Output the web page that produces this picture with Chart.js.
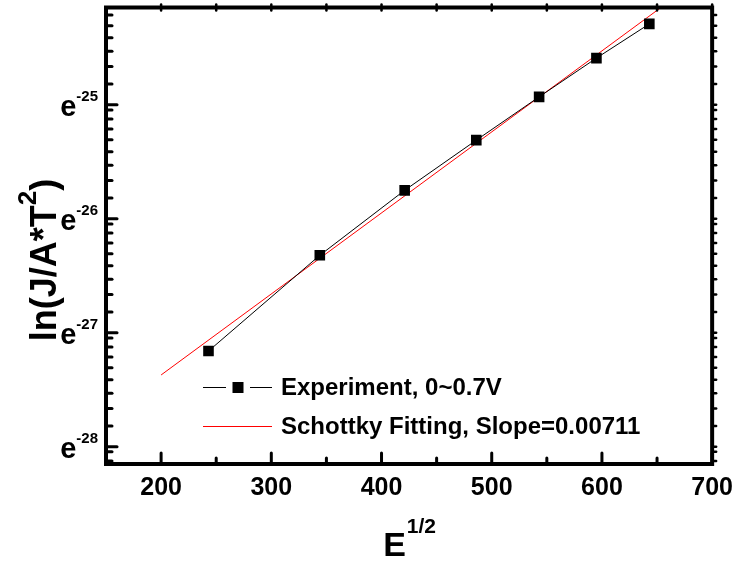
<!DOCTYPE html>
<html><head><meta charset="utf-8">
<script src="https://cdn.jsdelivr.net/npm/chart.js@4.4.0/dist/chart.umd.min.js"></script>
<style>html,body{margin:0;padding:0;background:#fff}canvas{display:block}</style>
</head><body>
<canvas id="c" width="742" height="561"></canvas>
<script>
// ---- data ----
const expX = [243, 344, 421, 486, 543, 595, 643];
const expY = [-27.16, -26.32, -25.75, -25.31, -24.93, -24.59, -24.29];   // ln(J/A*T^2)
const fitX = [200, 660];
const fitY = [-27.37, -24.10];
const xTicks = [200, 300, 400, 500, 600, 700];
const xMinorTicks = [250, 350, 450, 550, 650];
const yTicks = [-28, -27, -26, -25];
const yTickLabelBase = 'e';
const seriesNames = ['Experiment, 0~0.7V', 'Schottky Fitting, Slope=0.00711'];
const xTitle = ['E', '1/2'];
const yTitle = ['ln(J/A*T', '2', ')'];

const FONT = '"Liberation Sans", Arial, Helvetica, sans-serif';

const decorPlugin = {
  id: 'decor',
  afterDatasetsDraw(chart) {
    const ctx = chart.ctx;
    const a = chart.chartArea;
    const xs = chart.scales.x, ys = chart.scales.y;
    ctx.save();
    ctx.strokeStyle = '#000';
    ctx.fillStyle = '#000';
    // frame
    ctx.lineWidth = 4;
    ctx.lineJoin = 'miter';
    ctx.strokeRect(a.left, a.top, a.right - a.left, a.bottom - a.top);

    // y tick positions (major + minor for ln scale: e^n*(1+0.2k))
    const yMinor = [];
    for (let n = -29; n <= -25; n++) {
      for (let k = 1; k <= 8; k++) {
        const v = n + Math.log(1 + 0.2 * k);
        if (v > ys.min && v < ys.max) yMinor.push(v);
      }
    }
    ctx.lineCap = 'round';
    ctx.lineWidth = 3;
    const line = (x1, y1, x2, y2) => { ctx.beginPath(); ctx.moveTo(x1, y1); ctx.lineTo(x2, y2); ctx.stroke(); };
    // left ticks
    yTicks.forEach(v => { const y = ys.getPixelForValue(v); line(a.left, y, a.left + 11, y); });
    yMinor.forEach(v => { const y = ys.getPixelForValue(v); line(a.left, y, a.left + 6, y); });
    // right ticks (outward, small)
    ctx.lineWidth = 2.5;
    yTicks.concat(yMinor).forEach(v => { const y = ys.getPixelForValue(v); line(a.right, y, a.right + 4, y); });
    // bottom ticks
    ctx.lineWidth = 3;
    xTicks.forEach(v => { const x = xs.getPixelForValue(v); line(x, a.bottom, x, a.bottom - 11); });
    xMinorTicks.forEach(v => { const x = xs.getPixelForValue(v); line(x, a.bottom, x, a.bottom - 6); });
    // top ticks (small bumps)
    ctx.lineWidth = 2.5;
    xTicks.concat(xMinorTicks).forEach(v => { const x = xs.getPixelForValue(v); line(x, a.top - 3, x, a.top + 3); });
    ctx.lineCap = 'butt';

    // y tick labels e^n
    ctx.textBaseline = 'alphabetic';
    ctx.textAlign = 'left';
    const eFont = 'bold 29px ' + FONT, supFont = 'bold 15px ' + FONT;
    yTicks.forEach(v => {
      const y = ys.getPixelForValue(v);
      const sup = String(v);
      ctx.font = supFont; const sw = ctx.measureText(sup).width;
      ctx.font = eFont; const ew = ctx.measureText(yTickLabelBase).width;
      const right = a.left - 8;
      ctx.fillText(yTickLabelBase, right - sw - ew, y + 11);
      ctx.font = supFont; ctx.fillText(sup, right - sw, y - 4);
    });

    // x title
    const tF = 'bold 34px ' + FONT, tS = 'bold 21px ' + FONT;
    ctx.font = tF; const w1 = ctx.measureText(xTitle[0]).width;
    ctx.font = tS; const w2 = ctx.measureText(xTitle[1]).width;
    const cx = (a.left + a.right) / 2;
    let x0 = cx - (w1 + w2) / 2;
    ctx.font = tF; ctx.fillText(xTitle[0], x0, 556);
    ctx.font = tS; ctx.fillText(xTitle[1], x0 + w1 + 1, 533);

    // y title (rotated)
    ctx.save();
    ctx.translate(56, 260);
    ctx.rotate(-Math.PI / 2);
    const yF = 'bold 36px ' + FONT, yS = 'bold 26px ' + FONT;
    ctx.font = yF; const a1 = ctx.measureText(yTitle[0]).width, a3 = ctx.measureText(yTitle[2]).width;
    ctx.font = yS; const a2 = ctx.measureText(yTitle[1]).width;
    let u = -(a1 + a2 + a3) / 2;
    ctx.font = yF; ctx.fillText(yTitle[0], u, 0);
    ctx.font = yS; ctx.fillText(yTitle[1], u + a1, -20);
    ctx.font = yF; ctx.fillText(yTitle[2], u + a1 + a2, 0);
    ctx.restore();

    // legend
    const ds = chart.data.datasets;
    ctx.font = 'bold 24px ' + FONT;
    ctx.textBaseline = 'middle';
    const rows = [387, 426];
    const lx0 = 203, lx1 = 272, tx = 281;
    // row 1: line - marker - line
    ctx.strokeStyle = ds[0].borderColor; ctx.lineWidth = 1;
    line(lx0, rows[0] + 0.5, 226, rows[0] + 0.5);
    line(250, rows[0] + 0.5, lx1, rows[0] + 0.5);
    ctx.fillStyle = ds[0].pointBackgroundColor;
    ctx.fillRect(232.5, rows[0] - 5, 11, 11);
    ctx.fillStyle = '#000';
    ctx.fillText(ds[0].label, tx, rows[0] + 1);
    // row 2
    ctx.strokeStyle = ds[1].borderColor;
    line(lx0, rows[1] + 0.5, lx1, rows[1] + 0.5);
    ctx.fillText(ds[1].label, tx, rows[1] + 1);
    ctx.restore();
  }
};

new Chart(document.getElementById('c'), {
  type: 'line',
  data: {
    datasets: [
      {
        label: seriesNames[0],
        data: expX.map((x, i) => ({ x, y: expY[i] })),
        borderColor: '#000000',
        borderWidth: 1,
        pointStyle: 'rect',
        pointRadius: 7.5,
        pointBorderWidth: 0,
        pointBackgroundColor: '#000000',
        pointBorderColor: '#000000',
        tension: 0,
        fill: false
      },
      {
        label: seriesNames[1],
        data: fitX.map((x, i) => ({ x, y: fitY[i] })),
        borderColor: '#ff0000',
        borderWidth: 1,
        pointRadius: 0,
        tension: 0,
        fill: false
      }
    ]
  },
  options: {
    responsive: false,
    animation: false,
    devicePixelRatio: 1,
    layout: { padding: { left: 0, top: 7, right: 24, bottom: 0 } },
    plugins: { legend: { display: false }, tooltip: { enabled: false }, title: { display: false } },
    scales: {
      x: {
        type: 'linear', position: 'bottom', min: 150, max: 700,
        grid: { display: false, drawTicks: false },
        border: { display: false },
        afterBuildTicks: s => { s.ticks = xTicks.map(v => ({ value: v })); },
        afterFit: s => { s.height = 97; },
        ticks: { padding: 9, color: '#000', maxRotation: 0, autoSkip: false,
                 font: { family: FONT, size: 25, weight: 'bold' } }
      },
      y: {
        type: 'linear', position: 'left', min: -28.151, max: -24.146,
        grid: { display: false, drawTicks: false },
        border: { display: false },
        afterBuildTicks: s => { s.ticks = yTicks.map(v => ({ value: v })); },
        afterFit: s => { s.width = 106; },
        ticks: { display: false }
      }
    }
  },
  plugins: [decorPlugin]
});
</script>
</body></html>
